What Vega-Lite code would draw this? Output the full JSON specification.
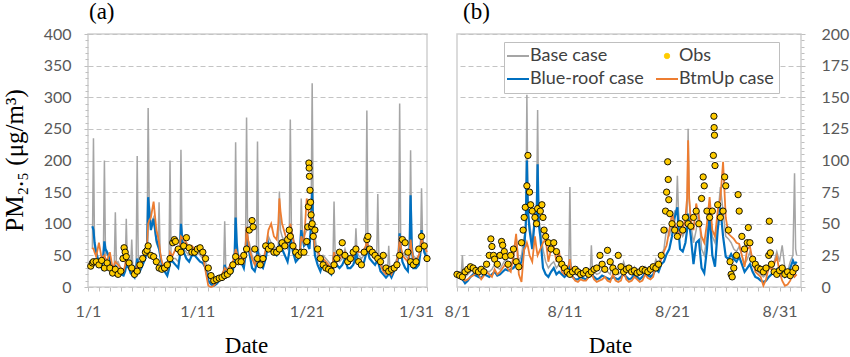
{
"$schema": "https://vega.github.io/schema/vega-lite/v6.json",
"background": "white",
"padding": {"left": 1, "top": 0, "right": 0, "bottom": 0},
"bounds": "flush",
"spacing": 30,
"config": {
  "view": {"stroke": "#d0d0d0", "strokeWidth": 1.5},
  "axis": {"labelFont": "Lato", "labelFontSize": 16, "labelColor": "#595959", "domain": false, "tickColor": "#bfbfbf", "tickSize": 4, "titleFont": "Liberation Serif", "titleFontWeight": "normal", "titleColor": "black", "labelOverlap": false, "labelFlush": false},
  "axisY": {"gridColor": "#c4c4c4", "gridWidth": 1, "gridOpacity": 1, "gridDash": [5, 3]},
  "title": {"font": "Liberation Serif", "fontSize": 23, "fontWeight": "normal", "color": "black", "anchor": "start", "baseline": "alphabetic", "offset": 2, "frame": "group"}
},
"datasets": {
"simA": [
{"d":1.4,"g":60,"b":96,"o":62},{"d":1.5,"g":235,"b":90,"o":60},{"d":1.6,"g":60,"b":70,"o":55},{"d":1.75,"g":55,"b":55,"o":48},
{"d":2,"g":40,"b":38,"o":70},{"d":2.25,"g":35,"b":30,"o":45},{"d":2.4,"g":40,"b":50,"o":48},{"d":2.5,"g":200,"b":72,"o":50},{"d":2.6,"g":50,"b":60,"o":45},{"d":2.75,"g":55,"b":55,"o":42},
{"d":3,"g":40,"b":45,"o":55},{"d":3.25,"g":30,"b":22,"o":30},{"d":3.4,"g":32,"b":28,"o":35},{"d":3.5,"g":118,"b":35,"o":40},{"d":3.6,"g":38,"b":28,"o":38},{"d":3.75,"g":40,"b":25,"o":35},
{"d":4,"g":30,"b":20,"o":30},{"d":4.25,"g":25,"b":18,"o":25},{"d":4.4,"g":28,"b":25,"o":35},{"d":4.5,"g":108,"b":35,"o":45},{"d":4.6,"g":35,"b":32,"o":42},{"d":4.75,"g":40,"b":30,"o":40},
{"d":4.9,"g":30,"b":22,"o":30},{"d":5,"g":75,"b":20,"o":28},{"d":5.1,"g":30,"b":18,"o":25},{"d":5.25,"g":30,"b":15,"o":20},{"d":5.4,"g":32,"b":30,"o":28},{"d":5.5,"g":207,"b":45,"o":35},{"d":5.6,"g":35,"b":35,"o":32},{"d":5.75,"g":35,"b":25,"o":30},
{"d":6,"g":40,"b":35,"o":45},{"d":6.25,"g":50,"b":45,"o":55},{"d":6.4,"g":55,"b":60,"o":65},{"d":6.5,"g":283,"b":142,"o":100},{"d":6.6,"g":130,"b":120,"o":105},{"d":6.75,"g":100,"b":90,"o":110},
{"d":7,"g":110,"b":108,"o":135},{"d":7.25,"g":70,"b":75,"o":90},{"d":7.4,"g":65,"b":65,"o":80},{"d":7.5,"g":134,"b":60,"o":70},{"d":7.6,"g":50,"b":50,"o":55},{"d":7.75,"g":40,"b":35,"o":40},
{"d":8,"g":30,"b":25,"o":30},{"d":8.25,"g":25,"b":18,"o":28},{"d":8.4,"g":30,"b":28,"o":40},{"d":8.5,"g":200,"b":40,"o":55},{"d":8.6,"g":42,"b":40,"o":52},{"d":8.75,"g":45,"b":40,"o":50},
{"d":9,"g":45,"b":35,"o":60},{"d":9.25,"g":40,"b":30,"o":55},{"d":9.4,"g":45,"b":50,"o":65},{"d":9.5,"g":217,"b":100,"o":80},{"d":9.6,"g":70,"b":80,"o":78},{"d":9.75,"g":60,"b":55,"o":75},
{"d":10,"g":55,"b":45,"o":70},{"d":10.25,"g":50,"b":40,"o":60},{"d":10.5,"g":60,"b":50,"o":65},{"d":10.75,"g":55,"b":50,"o":60},
{"d":11,"g":55,"b":45,"o":60},{"d":11.25,"g":50,"b":40,"o":58},{"d":11.5,"g":45,"b":38,"o":50},{"d":11.75,"g":40,"b":30,"o":25},
{"d":12,"g":20,"b":10,"o":2},{"d":12.25,"g":8,"b":4,"o":0},{"d":12.5,"g":5,"b":2,"o":2},{"d":12.75,"g":10,"b":5,"o":8},
{"d":13,"g":15,"b":10,"o":15},{"d":13.25,"g":20,"b":15,"o":20},{"d":13.4,"g":25,"b":20,"o":25},{"d":13.5,"g":104,"b":35,"o":30},{"d":13.6,"g":30,"b":28,"o":28},{"d":13.75,"g":30,"b":20,"o":25},
{"d":14,"g":25,"b":20,"o":35},{"d":14.25,"g":30,"b":25,"o":40},{"d":14.4,"g":35,"b":45,"o":50},{"d":14.5,"g":229,"b":110,"o":60},{"d":14.6,"g":55,"b":70,"o":55},{"d":14.75,"g":50,"b":40,"o":45},
{"d":15,"g":50,"b":40,"o":50},{"d":15.25,"g":45,"b":30,"o":40},{"d":15.4,"g":50,"b":50,"o":60},{"d":15.5,"g":268,"b":90,"o":95},{"d":15.6,"g":75,"b":70,"o":80},{"d":15.75,"g":70,"b":55,"o":60},
{"d":16,"g":50,"b":30,"o":45},{"d":16.25,"g":40,"b":25,"o":35},{"d":16.4,"g":45,"b":35,"o":42},{"d":16.5,"g":230,"b":60,"o":50},{"d":16.6,"g":55,"b":45,"o":48},{"d":16.75,"g":50,"b":35,"o":45},
{"d":17,"g":40,"b":30,"o":40},{"d":17.25,"g":55,"b":45,"o":60},{"d":17.5,"g":80,"b":70,"o":90},{"d":17.75,"g":70,"b":60,"o":100},
{"d":18,"g":65,"b":55,"o":80},{"d":18.25,"g":60,"b":50,"o":75},{"d":18.4,"g":65,"b":55,"o":100},{"d":18.5,"g":151,"b":65,"o":140},{"d":18.6,"g":90,"b":62,"o":120},{"d":18.75,"g":80,"b":60,"o":100},
{"d":19,"g":70,"b":50,"o":85},{"d":19.25,"g":60,"b":40,"o":70},{"d":19.4,"g":65,"b":55,"o":80},{"d":19.5,"g":265,"b":85,"o":100},{"d":19.6,"g":90,"b":70,"o":90},{"d":19.75,"g":80,"b":55,"o":75},
{"d":20,"g":60,"b":40,"o":60},{"d":20.25,"g":55,"b":45,"o":50},{"d":20.4,"g":60,"b":60,"o":60},{"d":20.5,"g":140,"b":90,"o":80},{"d":20.6,"g":90,"b":80,"o":75},{"d":20.75,"g":80,"b":65,"o":70},
{"d":21,"g":90,"b":70,"o":140},{"d":21.25,"g":100,"b":60,"o":110},{"d":21.4,"g":110,"b":100,"o":115},{"d":21.5,"g":322,"b":150,"o":120},{"d":21.6,"g":100,"b":90,"o":90},{"d":21.75,"g":80,"b":50,"o":60},
{"d":22,"g":50,"b":35,"o":60},{"d":22.25,"g":40,"b":25,"o":45},{"d":22.5,"g":50,"b":40,"o":45},{"d":22.75,"g":45,"b":30,"o":40},
{"d":23,"g":40,"b":25,"o":35},{"d":23.25,"g":35,"b":20,"o":30},{"d":23.4,"g":40,"b":30,"o":40},{"d":23.5,"g":135,"b":50,"o":55},{"d":23.6,"g":50,"b":42,"o":48},{"d":23.75,"g":45,"b":35,"o":40},
{"d":24,"g":40,"b":30,"o":45},{"d":24.25,"g":45,"b":35,"o":50},{"d":24.5,"g":60,"b":45,"o":55},{"d":24.75,"g":45,"b":30,"o":45},
{"d":25,"g":40,"b":30,"o":40},{"d":25.25,"g":45,"b":35,"o":50},{"d":25.4,"g":50,"b":42,"o":55},{"d":25.5,"g":93,"b":55,"o":65},{"d":25.6,"g":55,"b":48,"o":60},{"d":25.75,"g":50,"b":40,"o":55},
{"d":26,"g":45,"b":35,"o":55},{"d":26.25,"g":50,"b":40,"o":60},{"d":26.4,"g":55,"b":50,"o":65},{"d":26.5,"g":279,"b":70,"o":75},{"d":26.6,"g":65,"b":55,"o":65},{"d":26.75,"g":60,"b":45,"o":55},
{"d":27,"g":50,"b":40,"o":50},{"d":27.25,"g":45,"b":35,"o":45},{"d":27.4,"g":45,"b":40,"o":48},{"d":27.5,"g":147,"b":45,"o":50},{"d":27.6,"g":45,"b":35,"o":42},{"d":27.75,"g":40,"b":25,"o":35},
{"d":28,"g":30,"b":20,"o":25},{"d":28.25,"g":25,"b":15,"o":20},{"d":28.4,"g":28,"b":18,"o":24},{"d":28.5,"g":65,"b":25,"o":30},{"d":28.6,"g":30,"b":20,"o":25},{"d":28.75,"g":30,"b":15,"o":20},
{"d":29,"g":35,"b":25,"o":30},{"d":29.25,"g":45,"b":35,"o":40},{"d":29.4,"g":50,"b":50,"o":55},{"d":29.5,"g":290,"b":85,"o":80},{"d":29.6,"g":60,"b":60,"o":65},{"d":29.75,"g":55,"b":40,"o":50},
{"d":30,"g":50,"b":30,"o":45},{"d":30.25,"g":45,"b":25,"o":40},{"d":30.4,"g":45,"b":60,"o":55},{"d":30.5,"g":216,"b":145,"o":75},{"d":30.6,"g":60,"b":70,"o":60},{"d":30.75,"g":50,"b":30,"o":45},
{"d":31,"g":45,"b":30,"o":40},{"d":31.25,"g":50,"b":35,"o":50},{"d":31.4,"g":55,"b":55,"o":60},{"d":31.5,"g":156,"b":90,"o":80},{"d":31.6,"g":70,"b":70,"o":72},{"d":31.75,"g":60,"b":55,"o":65},
{"d":32,"g":50,"b":45,"o":55}
],
"obsA": [
{"d":1.25,"v":33},{"d":1.4,"v":38},{"d":1.5,"v":40},{"d":1.75,"v":40},{"d":2,"v":35},{"d":2.25,"v":42},{"d":2.5,"v":30},{"d":2.75,"v":38},
{"d":3,"v":30},{"d":3.25,"v":22},{"d":3.5,"v":28},{"d":3.75,"v":20},{"d":4,"v":25},{"d":4.2,"v":45},{"d":4.3,"v":62},{"d":4.4,"v":55},{"d":4.5,"v":48},{"d":4.75,"v":38},
{"d":5,"v":30},{"d":5.25,"v":20},{"d":5.5,"v":25},{"d":5.75,"v":35},{"d":6,"v":45},{"d":6.25,"v":55},{"d":6.4,"v":58},{"d":6.5,"v":65},{"d":6.75,"v":50},
{"d":7,"v":48},{"d":7.25,"v":40},{"d":7.5,"v":30},{"d":7.75,"v":28},{"d":8,"v":30},{"d":8.25,"v":35},{"d":8.5,"v":45},{"d":8.75,"v":70},{"d":8.9,"v":75},
{"d":9,"v":72},{"d":9.25,"v":60},{"d":9.5,"v":55},{"d":9.75,"v":65},{"d":10,"v":78},{"d":10.25,"v":62},{"d":10.5,"v":55},{"d":10.75,"v":55},
{"d":11,"v":60},{"d":11.25,"v":62},{"d":11.5,"v":55},{"d":11.75,"v":45},{"d":12,"v":30},{"d":12.25,"v":18},{"d":12.5,"v":10},{"d":12.75,"v":12},
{"d":13,"v":14},{"d":13.25,"v":15},{"d":13.5,"v":18},{"d":13.75,"v":20},{"d":14,"v":25},{"d":14.25,"v":35},{"d":14.5,"v":48},{"d":14.75,"v":40},
{"d":15,"v":40},{"d":15.25,"v":50},{"d":15.5,"v":60},{"d":15.75,"v":90},{"d":16,"v":105},{"d":16.1,"v":95},{"d":16.25,"v":60},{"d":16.5,"v":45},{"d":16.75,"v":35},
{"d":17,"v":45},{"d":17.25,"v":65},{"d":17.5,"v":60},{"d":17.75,"v":65},{"d":18,"v":55},{"d":18.25,"v":55},{"d":18.5,"v":60},{"d":18.75,"v":70},
{"d":19,"v":65},{"d":19.25,"v":75},{"d":19.4,"v":90},{"d":19.5,"v":80},{"d":19.75,"v":65},{"d":20,"v":55},{"d":20.25,"v":50},{"d":20.5,"v":55},{"d":20.75,"v":55},
{"d":21,"v":72},{"d":21.1,"v":95},{"d":21.15,"v":127},{"d":21.2,"v":196},{"d":21.22,"v":188},{"d":21.25,"v":175},{"d":21.3,"v":153},{"d":21.35,"v":134},{"d":21.4,"v":114},{"d":21.45,"v":96},{"d":21.5,"v":100},{"d":21.6,"v":80},{"d":21.75,"v":90},
{"d":22,"v":60},{"d":22.25,"v":45},{"d":22.5,"v":35},{"d":22.75,"v":30},{"d":23,"v":28},{"d":23.25,"v":25},{"d":23.5,"v":35},{"d":23.75,"v":45},
{"d":24,"v":55},{"d":24.25,"v":70},{"d":24.5,"v":50},{"d":24.75,"v":40},{"d":25,"v":45},{"d":25.25,"v":55},{"d":25.5,"v":60},{"d":25.75,"v":40},
{"d":26,"v":35},{"d":26.25,"v":55},{"d":26.5,"v":75},{"d":26.6,"v":80},{"d":26.75,"v":60},{"d":27,"v":55},{"d":27.25,"v":50},{"d":27.5,"v":45},{"d":27.75,"v":40},
{"d":28,"v":50},{"d":28.25,"v":30},{"d":28.5,"v":25},{"d":28.75,"v":28},{"d":29,"v":30},{"d":29.25,"v":35},{"d":29.5,"v":50},{"d":29.75,"v":75},
{"d":30,"v":70},{"d":30.25,"v":55},{"d":30.5,"v":40},{"d":30.75,"v":35},{"d":31,"v":40},{"d":31.25,"v":60},{"d":31.5,"v":80},{"d":31.75,"v":65},{"d":32,"v":45}
],
"simB": [
{"d":1,"g":10,"b":9,"o":10},{"d":1.25,"g":12,"b":8,"o":9},{"d":1.4,"g":11,"b":7,"o":8},{"d":1.5,"g":25,"b":6,"o":7},{"d":1.6,"g":10,"b":5,"o":6},{"d":1.75,"g":8,"b":3,"o":5},
{"d":2,"g":10,"b":5,"o":6},{"d":2.25,"g":12,"b":8,"o":8},{"d":2.5,"g":14,"b":10,"o":9},{"d":2.75,"g":13,"b":9,"o":11},
{"d":3,"g":12,"b":8,"o":10},{"d":3.25,"g":11,"b":7,"o":6},{"d":3.5,"g":15,"b":10,"o":9},{"d":3.75,"g":13,"b":9,"o":12},
{"d":4,"g":12,"b":8,"o":10},{"d":4.25,"g":14,"b":10,"o":8},{"d":4.5,"g":18,"b":12,"o":14},{"d":4.75,"g":15,"b":9,"o":10},
{"d":5,"g":14,"b":10,"o":12},{"d":5.25,"g":18,"b":12,"o":15},{"d":5.5,"g":22,"b":14,"o":18},{"d":5.75,"g":20,"b":13,"o":14},
{"d":6,"g":18,"b":14,"o":12},{"d":6.25,"g":20,"b":15,"o":25},{"d":6.5,"g":40,"b":18,"o":42},{"d":6.75,"g":20,"b":16,"o":10},
{"d":7,"g":25,"b":20,"o":4},{"d":7.25,"g":40,"b":30,"o":30},{"d":7.4,"g":45,"b":50,"o":32},{"d":7.5,"g":152,"b":100,"o":35},{"d":7.6,"g":60,"b":60,"o":32},{"d":7.75,"g":50,"b":45,"o":25},
{"d":8,"g":35,"b":30,"o":20},{"d":8.25,"g":60,"b":55,"o":40},{"d":8.4,"g":55,"b":55,"o":30},{"d":8.5,"g":140,"b":97,"o":25},{"d":8.6,"g":55,"b":50,"o":27},{"d":8.75,"g":45,"b":40,"o":30},
{"d":9,"g":30,"b":15,"o":35},{"d":9.25,"g":20,"b":10,"o":38},{"d":9.5,"g":15,"b":8,"o":20},{"d":9.75,"g":18,"b":12,"o":30},
{"d":10,"g":20,"b":15,"o":32},{"d":10.25,"g":15,"b":10,"o":20},{"d":10.5,"g":18,"b":12,"o":28},{"d":10.75,"g":15,"b":10,"o":12},
{"d":11,"g":12,"b":8,"o":10},{"d":11.25,"g":14,"b":10,"o":15},{"d":11.4,"g":14,"b":12,"o":18},{"d":11.5,"g":79,"b":20,"o":22},{"d":11.6,"g":16,"b":12,"o":15},{"d":11.75,"g":15,"b":8,"o":8},
{"d":12,"g":10,"b":6,"o":5},{"d":12.25,"g":9,"b":6,"o":4},{"d":12.5,"g":12,"b":8,"o":6},{"d":12.75,"g":10,"b":7,"o":5},
{"d":13,"g":10,"b":6,"o":5},{"d":13.25,"g":12,"b":8,"o":8},{"d":13.4,"g":12,"b":9,"o":10},{"d":13.5,"g":33,"b":10,"o":12},{"d":13.6,"g":14,"b":9,"o":9},{"d":13.75,"g":12,"b":8,"o":6},
{"d":14,"g":10,"b":6,"o":4},{"d":14.25,"g":11,"b":7,"o":5},{"d":14.5,"g":14,"b":9,"o":6},{"d":14.75,"g":12,"b":8,"o":8},
{"d":15,"g":12,"b":7,"o":5},{"d":15.25,"g":10,"b":6,"o":4},{"d":15.5,"g":18,"b":8,"o":10},{"d":15.75,"g":12,"b":7,"o":5},
{"d":16,"g":10,"b":6,"o":4},{"d":16.25,"g":12,"b":8,"o":5},{"d":16.5,"g":20,"b":10,"o":12},{"d":16.75,"g":13,"b":8,"o":6},
{"d":17,"g":11,"b":6,"o":4},{"d":17.25,"g":12,"b":7,"o":5},{"d":17.5,"g":16,"b":10,"o":8},{"d":17.75,"g":12,"b":8,"o":6},
{"d":18,"g":10,"b":6,"o":4},{"d":18.25,"g":12,"b":8,"o":5},{"d":18.5,"g":16,"b":11,"o":10},{"d":18.75,"g":13,"b":9,"o":7},
{"d":19,"g":12,"b":8,"o":6},{"d":19.25,"g":14,"b":10,"o":8},{"d":19.5,"g":22,"b":14,"o":18},{"d":19.75,"g":18,"b":12,"o":15},
{"d":20,"g":25,"b":18,"o":22},{"d":20.25,"g":30,"b":20,"o":28},{"d":20.5,"g":47,"b":26,"o":33},{"d":20.75,"g":40,"b":30,"o":45},
{"d":21,"g":50,"b":40,"o":58},{"d":21.25,"g":60,"b":55,"o":50},{"d":21.4,"g":60,"b":60,"o":47},{"d":21.5,"g":88,"b":63,"o":45},{"d":21.6,"g":60,"b":45,"o":43},{"d":21.75,"g":45,"b":30,"o":40},
{"d":22,"g":40,"b":28,"o":45},{"d":22.25,"g":45,"b":35,"o":55},{"d":22.4,"g":50,"b":45,"o":70},{"d":22.5,"g":125,"b":58,"o":116},{"d":22.6,"g":70,"b":50,"o":70},{"d":22.75,"g":50,"b":40,"o":53},
{"d":23,"g":35,"b":18,"o":45},{"d":23.25,"g":45,"b":35,"o":66},{"d":23.5,"g":60,"b":37,"o":55},{"d":23.75,"g":30,"b":15,"o":40},
{"d":24,"g":25,"b":11,"o":35},{"d":24.25,"g":40,"b":30,"o":50},{"d":24.5,"g":63,"b":58,"o":71},{"d":24.75,"g":40,"b":25,"o":45},
{"d":25,"g":35,"b":16,"o":40},{"d":25.25,"g":55,"b":45,"o":60},{"d":25.5,"g":79,"b":63,"o":70},{"d":25.75,"g":60,"b":40,"o":99},
{"d":26,"g":40,"b":24,"o":55},{"d":26.25,"g":38,"b":22,"o":42},{"d":26.5,"g":35,"b":26,"o":40},{"d":26.75,"g":30,"b":22,"o":38},
{"d":27,"g":28,"b":20,"o":35},{"d":27.25,"g":32,"b":24,"o":34},{"d":27.5,"g":25,"b":18,"o":25},{"d":27.75,"g":18,"b":12,"o":16},
{"d":28,"g":22,"b":15,"o":30},{"d":28.25,"g":28,"b":18,"o":32},{"d":28.5,"g":20,"b":12,"o":21},{"d":28.75,"g":14,"b":8,"o":12},
{"d":29,"g":12,"b":7,"o":10},{"d":29.25,"g":10,"b":5,"o":8},{"d":29.5,"g":8,"b":4,"o":1},{"d":29.75,"g":10,"b":5,"o":6},
{"d":30,"g":14,"b":8,"o":16},{"d":30.25,"g":16,"b":10,"o":14},{"d":30.5,"g":20,"b":12,"o":18},{"d":30.75,"g":28,"b":14,"o":24},
{"d":31,"g":20,"b":10,"o":12},{"d":31.25,"g":33,"b":12,"o":5},{"d":31.5,"g":15,"b":8,"o":1},{"d":31.75,"g":12,"b":10,"o":2},
{"d":32,"g":20,"b":15,"o":5},{"d":32.25,"g":25,"b":21,"o":11},{"d":32.4,"g":90,"b":18,"o":8},{"d":32.5,"g":30,"b":19,"o":9},{"d":32.6,"g":25,"b":20,"o":10}
],
"obsB": [
{"d":1,"v":10},{"d":1.25,"v":9},{"d":1.5,"v":8},{"d":1.75,"v":12},{"d":2,"v":14},{"d":2.25,"v":16},{"d":2.5,"v":15},{"d":2.75,"v":13},
{"d":3,"v":12},{"d":3.25,"v":14},{"d":3.5,"v":12},{"d":3.75,"v":18},{"d":4,"v":25},{"d":4.15,"v":38},{"d":4.25,"v":32},{"d":4.4,"v":25},{"d":4.5,"v":22},{"d":4.75,"v":18},
{"d":5,"v":25},{"d":5.15,"v":36},{"d":5.25,"v":33},{"d":5.4,"v":28},{"d":5.5,"v":24},{"d":5.75,"v":18},{"d":6,"v":25},{"d":6.25,"v":30},{"d":6.5,"v":20},{"d":6.75,"v":16},
{"d":7,"v":35},{"d":7.15,"v":45},{"d":7.25,"v":55},{"d":7.35,"v":63},{"d":7.5,"v":80},{"d":7.6,"v":104},{"d":7.75,"v":75},{"d":7.85,"v":65},
{"d":8,"v":60},{"d":8.25,"v":55},{"d":8.4,"v":50},{"d":8.5,"v":62},{"d":8.75,"v":60},{"d":8.9,"v":65},{"d":9,"v":55},{"d":9.1,"v":45},{"d":9.25,"v":40},{"d":9.5,"v":35},{"d":9.75,"v":30},
{"d":10,"v":35},{"d":10.25,"v":28},{"d":10.5,"v":22},{"d":10.75,"v":18},{"d":11,"v":15},{"d":11.25,"v":12},{"d":11.5,"v":10},{"d":11.75,"v":12},
{"d":12,"v":14},{"d":12.25,"v":12},{"d":12.5,"v":10},{"d":12.75,"v":11},{"d":13,"v":13},{"d":13.25,"v":10},{"d":13.5,"v":12},{"d":13.75,"v":14},
{"d":14,"v":15},{"d":14.3,"v":25},{"d":14.5,"v":18},{"d":14.75,"v":14},{"d":15,"v":29},{"d":15.25,"v":20},{"d":15.5,"v":15},{"d":15.75,"v":12},
{"d":16,"v":25},{"d":16.25,"v":16},{"d":16.5,"v":12},{"d":16.75,"v":14},{"d":17,"v":15},{"d":17.25,"v":12},{"d":17.5,"v":13},{"d":17.75,"v":11},
{"d":18,"v":12},{"d":18.25,"v":14},{"d":18.5,"v":13},{"d":18.75,"v":12},{"d":19,"v":14},{"d":19.25,"v":16},{"d":19.5,"v":15},{"d":19.75,"v":18},
{"d":20,"v":25},{"d":20.25,"v":45},{"d":20.4,"v":60},{"d":20.5,"v":75},{"d":20.6,"v":99},{"d":20.65,"v":85},{"d":20.7,"v":69},{"d":20.8,"v":58},
{"d":21,"v":50},{"d":21.25,"v":45},{"d":21.5,"v":40},{"d":21.75,"v":50},{"d":22,"v":45},{"d":22.25,"v":55},{"d":22.5,"v":50},{"d":22.75,"v":48},
{"d":23,"v":55},{"d":23.25,"v":60},{"d":23.5,"v":50},{"d":23.75,"v":70},{"d":23.9,"v":87},{"d":24,"v":80},{"d":24.25,"v":60},{"d":24.5,"v":55},{"d":24.75,"v":60},
{"d":24.85,"v":104},{"d":24.9,"v":135},{"d":24.92,"v":126},{"d":24.95,"v":120},{"d":25,"v":96},{"d":25.25,"v":65},{"d":25.5,"v":55},{"d":25.75,"v":60},{"d":25.9,"v":87},
{"d":26,"v":80},{"d":26.25,"v":45},{"d":26.4,"v":20},{"d":26.5,"v":10},{"d":26.6,"v":8},{"d":26.75,"v":15},{"d":27,"v":25},{"d":27.15,"v":73},{"d":27.25,"v":60},{"d":27.5,"v":40},{"d":27.75,"v":30},
{"d":28,"v":35},{"d":28.1,"v":47},{"d":28.25,"v":35},{"d":28.5,"v":22},{"d":28.75,"v":18},{"d":29,"v":15},{"d":29.25,"v":14},{"d":29.5,"v":12},{"d":29.75,"v":15},
{"d":30,"v":25},{"d":30.05,"v":52},{"d":30.1,"v":37},{"d":30.15,"v":27},{"d":30.25,"v":18},{"d":30.5,"v":12},{"d":30.75,"v":10},
{"d":31,"v":13},{"d":31.25,"v":15},{"d":31.5,"v":10},{"d":31.75,"v":12},{"d":32,"v":9},{"d":32.25,"v":12},{"d":32.5,"v":15}
]
},
"hconcat": [
{
  "width": 339, "height": 253,
  "title": {"text": "(a)", "dx": 1},
  "resolve": {"axis": {"y": "independent"}},
  "encoding": {
    "x": {"field": "d", "type": "quantitative", "scale": {"domain": [1, 32], "nice": false, "zero": false},
      "axis": {"values": [1,2,3,4,5,6,7,8,9,10,11,12,13,14,15,16,17,18,19,20,21,22,23,24,25,26,27,28,29,30,31,32],
        "labelExpr": "datum.value % 10 == 1 ? '1/' + datum.value : ''", "grid": false, "labelPadding": 12, "labelOverlap": false, "labelFlush": false,
        "title": "Date", "titleFontSize": 23, "titleX": 158, "titleY": 65, "titleBaseline": "alphabetic"}}
  },
  "layer": [
    {"data": {"name": "simA"}, "mark": {"type": "line", "color": "#A5A5A5", "strokeWidth": 1.5},
     "encoding": {"y": {"field": "g", "type": "quantitative", "scale": {"domain": [0, 400], "nice": false},
       "axis": {"orient": "left", "values": [0,50,100,150,200,250,300,350,400], "grid": true, "labelOverlap": false, "labelFlush": false,
         "labelPadding": 13, "title": "PM₂.₅ (μg/m³)", "titleFontSize": 25, "titleX": -74, "titleY": 126, "titleBaseline": "middle", "titleAngle": -90}}}},
    {"data": {"name": "simA"}, "mark": {"type": "line", "color": "#0070C0", "strokeWidth": 2.2},
     "encoding": {"y": {"field": "b", "type": "quantitative",
       "axis": {"orient": "left", "values": [10,20,30,40,60,70,80,90,110,120,130,140,160,170,180,190,210,220,230,240,260,270,280,290,310,320,330,340,360,370,380,390],
         "labels": false, "grid": false, "title": null, "tickSize": 3}}}},
    {"data": {"name": "simA"}, "mark": {"type": "line", "color": "#ED7D31", "strokeWidth": 1.8},
     "encoding": {"y": {"field": "o", "type": "quantitative", "axis": null}}},
    {"data": {"name": "obsA"}, "mark": {"type": "point", "filled": true, "fill": "#FFCC00", "stroke": "#000000", "strokeWidth": 0.9, "size": 40, "opacity": 1},
     "encoding": {"y": {"field": "v", "type": "quantitative", "axis": null}}}
  ]
},
{
  "width": 344, "height": 253,
  "title": {"text": "(b)", "dx": 6},
  "resolve": {"axis": {"y": "independent"}},
  "encoding": {
    "x": {"field": "d", "type": "quantitative", "scale": {"domain": [1, 33], "nice": false, "zero": false},
      "axis": {"values": [1,2,3,4,5,6,7,8,9,10,11,12,13,14,15,16,17,18,19,20,21,22,23,24,25,26,27,28,29,30,31,32,33],
        "labelExpr": "datum.value % 10 == 1 && datum.value < 32 ? '8/' + datum.value : ''", "grid": false, "labelPadding": 12, "labelOverlap": false, "labelFlush": false,
        "title": "Date", "titleFontSize": 23, "titleX": 153, "titleY": 65, "titleBaseline": "alphabetic"}}
  },
  "layer": [
    {"data": {"name": "simB"}, "mark": {"type": "line", "strokeWidth": 1.5},
     "encoding": {"y": {"field": "g", "type": "quantitative", "scale": {"domain": [0, 200], "nice": false},
       "axis": {"orient": "right", "values": [0,25,50,75,100,125,150,175,200], "grid": true, "labelOverlap": false, "labelFlush": false,
         "labelPadding": 16, "title": null}},
       "color": {"datum": "Base case", "type": "nominal",
         "scale": {"domain": ["Base case", "Blue-roof case", "Obs", "BtmUp case"], "range": ["#A5A5A5", "#0070C0", "#FFCC00", "#ED7D31"]},
         "legend": {"orient": "none", "legendX": 416, "legendY": 8, "columns": 2, "gridAlign": "all", "title": null,
           "labelFont": "Lato", "labelFontSize": 18, "labelColor": "#404040",
           "symbolType": "stroke", "symbolSize": 484, "symbolStrokeWidth": 2,
           "fillColor": "white", "strokeColor": "#bfbfbf", "padding": 5, "columnPadding": 7, "rowPadding": 5, "labelOffset": 3,
           "values": ["Base case", "Blue-roof case", "Obs", "BtmUp case"],
           "encode": {"symbols": {"update": {
             "shape": {"signal": "datum.value === 'Obs' ? 'circle' : 'stroke'"},
             "size": {"signal": "datum.value === 'Obs' ? 30 : 484"},
             "fill": {"signal": "datum.value === 'Obs' ? '#FFCC00' : 'transparent'"},
             "stroke": {"signal": "datum.value === 'Obs' ? '#000000' : (datum.value === 'Base case' ? '#A5A5A5' : (datum.value === 'Blue-roof case' ? '#0070C0' : '#ED7D31'))"},
             "strokeWidth": {"signal": "datum.value === 'Obs' ? 0.8 : 2"},
             "opacity": {"value": 1}}}}}}}},
    {"data": {"name": "simB"}, "mark": {"type": "line", "strokeWidth": 2.2},
     "encoding": {"y": {"field": "b", "type": "quantitative",
       "axis": {"orient": "right", "values": [5,10,15,20,30,35,40,45,55,60,65,70,80,85,90,95,105,110,115,120,130,135,140,145,155,160,165,170,180,185,190,195],
         "labels": false, "grid": false, "title": null, "tickSize": 3}},
       "color": {"datum": "Blue-roof case", "type": "nominal"}}},
    {"data": {"name": "simB"}, "mark": {"type": "line", "strokeWidth": 1.8},
     "encoding": {"y": {"field": "o", "type": "quantitative", "axis": null}, "color": {"datum": "BtmUp case", "type": "nominal"}}},
    {"data": {"name": "obsB"}, "mark": {"type": "point", "filled": true, "stroke": "#000000", "strokeWidth": 0.9, "size": 40, "opacity": 1},
     "encoding": {"y": {"field": "v", "type": "quantitative", "axis": null}, "color": {"datum": "Obs", "type": "nominal"}}}
  ]
}
]
}
